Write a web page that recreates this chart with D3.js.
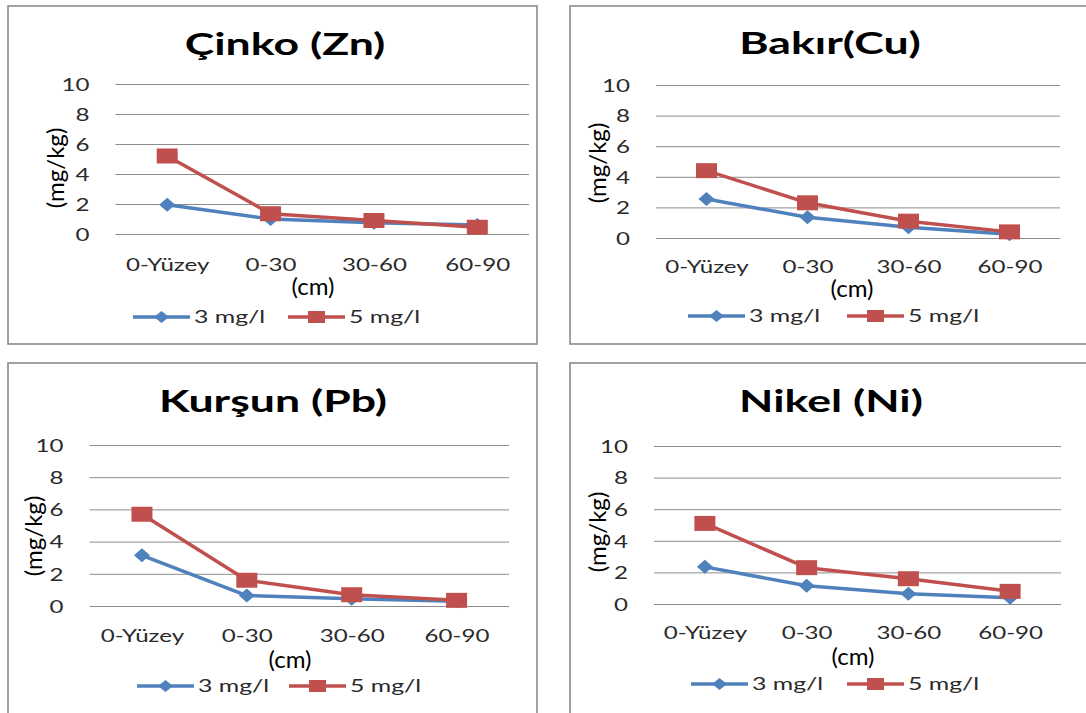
<!DOCTYPE html>
<html>
<head>
<meta charset="utf-8">
<script src="https://cdn.jsdelivr.net/npm/d3@7"></script>
<style>
  html, body { margin: 0; padding: 0; background: #fff; }
  svg { display: block; }
  text { font-family: Lato, "Open Sans", sans-serif; }
</style>
</head>
<body>
<svg id="chart" width="1086" height="713"></svg>
<script>
// ---------------- DATA ----------------
const categories = ["0-Yüzey", "0-30", "30-60", "60-90"];
const seriesNames = ["3 mg/l", "5 mg/l"];
const yTicks = [0, 2, 4, 6, 8, 10];
const chartTitles = ["Çinko (Zn)", "Bakır(Cu)", "Kurşun (Pb)", "Nikel (Ni)"];
const xAxisTitle = "(cm)";
const yAxisTitle = "(mg/kg)";

const zn3 = [1.95, 1.0, 0.75, 0.6];
const zn5 = [5.2, 1.35, 0.9, 0.45];
const cu3 = [2.55, 1.35, 0.7, 0.25];
const cu5 = [4.4, 2.3, 1.1, 0.4];
const pb3 = [3.15, 0.65, 0.45, 0.3];
const pb5 = [5.7, 1.6, 0.7, 0.35];
const ni3 = [2.35, 1.15, 0.65, 0.4];
const ni5 = [5.1, 2.3, 1.6, 0.8];

const panelSeries = [[zn3, zn5], [cu3, cu5], [pb3, pb5], [ni3, ni5]];

// ---------------- LAYOUT / STYLE ----------------
const colors = ["#4F81BD", "#C0504D"];
const layouts = [
  { box: [8, 6, 529, 338], px: [115.5, 529], py: [234, 84], title: [285, 55], tickY: 271, xt: [313, 295], yt: [55, 168], legY: 317, leg: [133, 288] },
  { box: [570, 6, 540, 338], px: [656, 1060], py: [238, 85], title: [830, 54], tickY: 273, xt: [852, 297], yt: [597, 163], legY: 316, leg: [688, 847] },
  { box: [8, 363, 529, 360], px: [89.5, 509], py: [606, 445], title: [273, 412], tickY: 642, xt: [290, 668], yt: [33, 536], legY: 686, leg: [137, 289] },
  { box: [570, 363, 540, 360], px: [654, 1061], py: [604, 446], title: [831, 412], tickY: 639, xt: [853, 665], yt: [597, 532], legY: 684, leg: [691, 847] }
];
const SX_TICK = 1.38, SX_LEG = 1.38, SX_TITLE = 1.44, SX_AXT = 1.07;

const svg = d3.select("#chart");

function diamondPath(w, h) {
  return `M0,${-h/2}L${w/2},0L0,${h/2}L${-w/2},0Z`;
}

layouts.forEach((L, i) => {
  const g = svg.append("g");
  // border
  g.append("rect")
    .attr("x", L.box[0]).attr("y", L.box[1])
    .attr("width", L.box[2]).attr("height", L.box[3])
    .attr("fill", "#fff").attr("stroke", "#8a8a8a").attr("stroke-width", 1.6);

  const x = d3.scalePoint().domain(categories).range(L.px).padding(0.5);
  const y = d3.scaleLinear().domain([0, 10]).range(L.py);
  const w = L.px[1] - L.px[0];

  // y axis with gridlines
  const ya = g.append("g")
    .attr("transform", `translate(${L.px[0]},0)`)
    .call(d3.axisLeft(y).tickValues(yTicks).tickSize(-w).tickPadding(26).tickFormat(d3.format("d")));
  ya.select(".domain").remove();
  ya.selectAll(".tick line").attr("stroke", "#8c8c8c").attr("stroke-width", 1);
  ya.selectAll(".tick text")
    .attr("x", 0).attr("dy", "0.36em")
    .attr("transform", `translate(-26,0) scale(${SX_TICK},1)`)
    .attr("font-size", 17.5).attr("font-family", "Lato").attr("fill", "#2a2a2a");

  // x axis
  const xa = g.append("g")
    .attr("transform", `translate(0,${L.py[0]})`)
    .call(d3.axisBottom(x).tickSize(0));
  xa.select(".domain").remove();
  xa.selectAll(".tick text")
    .attr("y", 0).attr("dy", 0)
    .attr("transform", `translate(0,${L.tickY - L.py[0]}) scale(${SX_TICK},1)`)
    .attr("font-size", 17.5).attr("font-family", "Lato").attr("fill", "#2a2a2a");

  // title
  g.append("text")
    .attr("transform", `translate(${L.title[0]},${L.title[1]}) scale(${SX_TITLE},1)`)
    .attr("text-anchor", "middle").attr("font-weight", "bold")
    .attr("font-family", "'Open Sans', Lato, sans-serif")
    .attr("font-size", 31).attr("fill", "#000")
    .text(chartTitles[i]);

  // axis titles
  g.append("text")
    .attr("transform", `translate(${L.xt[0]},${L.xt[1]}) scale(${SX_AXT},1)`)
    .attr("text-anchor", "middle").attr("font-size", 22.5).attr("fill", "#000")
    .text(xAxisTitle);
  g.append("text")
    .attr("transform", `translate(${L.yt[0]},${L.yt[1]}) rotate(-90) scale(${SX_AXT},1)`)
    .attr("text-anchor", "middle").attr("dominant-baseline", "central")
    .attr("font-size", 22.5).attr("fill", "#000")
    .text(yAxisTitle);

  // series
  const line = d3.line().x((d, j) => x(categories[j])).y(d => y(d));
  panelSeries[i].forEach((vals, s) => {
    const sg = g.append("g");
    sg.append("path").datum(vals)
      .attr("d", line).attr("fill", "none")
      .attr("stroke", colors[s]).attr("stroke-width", 3.5)
      .attr("stroke-linejoin", "round");
    if (s === 0) {
      sg.selectAll("path.m").data(vals).join("path").attr("class", "m")
        .attr("transform", (d, j) => `translate(${x(categories[j])},${y(d)})`)
        .attr("d", diamondPath(16, 14)).attr("fill", colors[s]);
    } else {
      sg.selectAll("rect.m").data(vals).join("rect").attr("class", "m")
        .attr("x", (d, j) => x(categories[j]) - 10.5).attr("y", d => y(d) - 7.5)
        .attr("width", 21).attr("height", 15).attr("fill", colors[s]);
    }
  });

  // legend
  seriesNames.forEach((name, s) => {
    const x0 = L.leg[s], len = 57, cy = L.legY;
    const lg = g.append("g");
    lg.append("line").attr("x1", x0).attr("x2", x0 + len).attr("y1", cy).attr("y2", cy)
      .attr("stroke", colors[s]).attr("stroke-width", 3.5);
    if (s === 0) {
      lg.append("path").attr("transform", `translate(${x0 + len/2},${cy})`)
        .attr("d", diamondPath(15, 12)).attr("fill", colors[s]);
    } else {
      lg.append("rect").attr("x", x0 + len/2 - 8.5).attr("y", cy - 6)
        .attr("width", 17).attr("height", 12).attr("fill", colors[s]);
    }
    lg.append("text")
      .attr("transform", `translate(${x0 + len + 4},${cy}) scale(${SX_LEG},1)`)
      .attr("dy", "0.36em").attr("font-size", 18).attr("fill", "#2a2a2a")
      .text(name);
  });
});
</script>
</body>
</html>
